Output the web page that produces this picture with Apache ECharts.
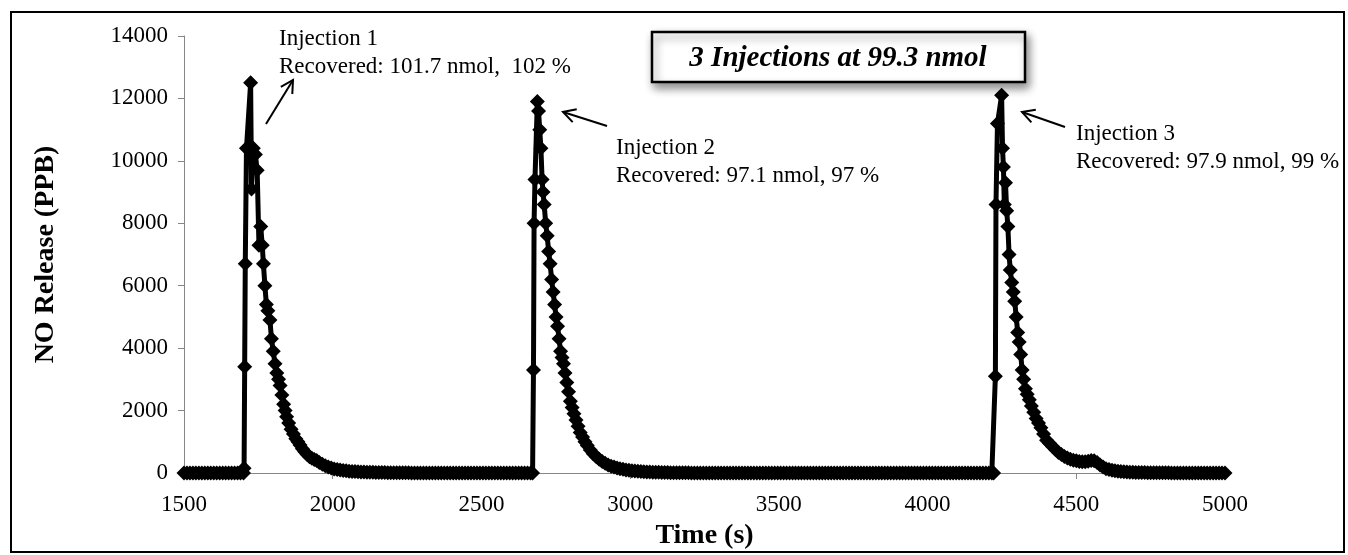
<!DOCTYPE html>
<html>
<head>
<meta charset="utf-8">
<script src="https://cdn.jsdelivr.net/npm/echarts@6/dist/echarts.min.js"></script>
<style>
  html, body { margin: 0; padding: 0; background: #fff; }
  #chart { width: 1348px; height: 555px; }
</style>
</head>
<body>
<div id="chart"></div>
<script>
// --- data (time in s, NO release in PPB) ---
var baseline1Time = [1500, 1510, 1520, 1530, 1540, 1550, 1560, 1570, 1580, 1590, 1600,
  1610, 1620, 1630, 1640, 1650, 1660, 1670, 1680, 1690, 1700];
var baseline1Ppb = [0, 0, 0, 0, 0, 0, 0, 0, 0, 0, 0, 0, 0, 0, 0, 0, 0, 0, 0, 0, 0];

var inj1Time = [1702, 1704, 1706, 1710,
  1724, 1727, 1733, 1740, 1746, 1752, 1758, 1763, 1767, 1772,
  1777, 1782, 1789, 1794, 1800, 1806, 1812, 1818, 1823, 1829,
  1835, 1840, 1845, 1852, 1860, 1868, 1876, 1883, 1890, 1898,
  1906, 1914, 1922, 1930, 1938, 1946, 1955, 1965, 1975, 1985,
  1995, 2005, 2015, 2025, 2035, 2045, 2055, 2065, 2075, 2085,
  2095, 2105, 2115, 2125, 2135, 2145, 2155, 2165, 2175, 2185,
  2195, 2205, 2215, 2225, 2235, 2245, 2255, 2265, 2275, 2285, 2295];
var inj1Ppb = [150, 3400, 6700, 10400,
  12500, 9100, 10400, 10200, 9700, 7300, 7900, 7300, 6700, 6000,
  5400, 5200, 4900, 4300, 3900, 3500, 3200, 3000, 2800, 2500,
  2200, 2000, 1800, 1600, 1400, 1250, 1100, 1000, 900, 780,
  680, 590, 520, 470, 430, 400, 340, 280, 230, 190,
  160, 130, 110, 95, 80, 70, 60, 52, 45, 40,
  35, 30, 27, 24, 21, 19, 17, 15, 13, 12,
  11, 10, 9, 8, 7, 6, 5, 4, 3, 2, 1];

var baseline2Time = [2305, 2315, 2325, 2335, 2345, 2355, 2365, 2375, 2385, 2395,
  2405, 2415, 2425, 2435, 2445, 2455, 2465, 2475, 2485, 2495,
  2505, 2515, 2525, 2535, 2545, 2555, 2565, 2575, 2585, 2595,
  2605, 2615, 2625, 2635, 2645, 2655, 2665];
var baseline2Ppb = [0, 0, 0, 0, 0, 0, 0, 0, 0, 0,
  0, 0, 0, 0, 0, 0, 0, 0, 0, 0,
  0, 0, 0, 0, 0, 0, 0, 0, 0, 0,
  0, 0, 0, 0, 0, 0, 0];

var inj2Time = [2672, 2675, 2677, 2680, 2688,
  2692, 2696, 2700, 2704, 2707, 2711, 2716, 2721, 2726, 2731,
  2736, 2741, 2746, 2751, 2756, 2761, 2766, 2771, 2776, 2781,
  2787, 2793, 2799, 2805, 2811, 2818, 2825, 2832, 2840, 2848,
  2856, 2866, 2876, 2886, 2896,
  2906, 2916, 2926, 2936, 2946, 2956, 2966, 2976, 2986, 2996,
  3006, 3016, 3026, 3036, 3046, 3056, 3066, 3076, 3086, 3096,
  3106, 3116, 3126, 3136, 3146, 3156, 3166, 3176, 3186, 3196,
  3206, 3216, 3226, 3236, 3246];
var inj2Ppb = [0, 3300, 8000, 9400, 11900,
  11600, 11000, 10400, 9400, 9000, 8600, 8000, 7600, 7100, 6700,
  6200, 5800, 5400, 5000, 4700, 4300, 3900, 3700, 3500, 3200,
  2900, 2600, 2300, 2100, 1900, 1700, 1500, 1300, 1150, 1000,
  880, 740, 620, 520, 440,
  370, 310, 260, 220, 190, 160, 140, 120, 100, 85,
  75, 65, 56, 48, 42, 36, 31, 27, 24, 21,
  18, 16, 14, 12, 10, 9, 8, 7, 6, 5,
  4, 3, 2, 1, 0];

var baseline3Time = [3256, 3266, 3276, 3286, 3296, 3306, 3316, 3326, 3336, 3346,
  3356, 3366, 3376, 3386, 3396, 3406, 3416, 3426, 3436, 3446,
  3456, 3466, 3476, 3486, 3496, 3506, 3516, 3526, 3536, 3546,
  3556, 3566, 3576, 3586, 3596, 3606, 3616, 3626, 3636, 3646,
  3656, 3666, 3676, 3686, 3696, 3706, 3716, 3726, 3736, 3746,
  3756, 3766, 3776, 3786, 3796, 3806, 3816, 3826, 3836, 3846,
  3856, 3866, 3876, 3886, 3896, 3906, 3916, 3926, 3936, 3946,
  3956, 3966, 3976, 3986, 3996, 4006, 4016, 4026, 4036, 4046,
  4056, 4066, 4076, 4086, 4096, 4106, 4116, 4126, 4136, 4146,
  4156, 4166, 4176, 4186, 4196, 4206, 4216];
var baseline3Ppb = [0, 0, 0, 0, 0, 0, 0, 0, 0, 0,
  0, 0, 0, 0, 0, 0, 0, 0, 0, 0,
  0, 0, 0, 0, 0, 0, 0, 0, 0, 0,
  0, 0, 0, 0, 0, 0, 0, 0, 0, 0,
  0, 0, 0, 0, 0, 0, 0, 0, 0, 0,
  0, 0, 0, 0, 0, 0, 0, 0, 0, 0,
  0, 0, 0, 0, 0, 0, 0, 0, 0, 0,
  0, 0, 0, 0, 0, 0, 0, 0, 0, 0,
  0, 0, 0, 0, 0, 0, 0, 0, 0, 0,
  0, 0, 0, 0, 0, 0, 0];

var inj3Time = [4222, 4228, 4230, 4235, 4249,
  4252, 4255, 4258, 4262, 4266, 4270, 4274, 4278, 4283, 4288,
  4293, 4298, 4303, 4308, 4313, 4318, 4323, 4329, 4335, 4342,
  4349, 4357, 4365, 4373, 4381, 4390,
  4400, 4410, 4420, 4430, 4440, 4450, 4460, 4470, 4480, 4490,
  4500, 4510, 4520, 4530, 4540, 4550, 4560, 4570, 4580, 4590,
  4600, 4610, 4620, 4630, 4640, 4650, 4660, 4670, 4680, 4690,
  4700, 4710, 4720, 4730, 4740, 4750, 4760, 4770, 4780, 4790,
  4800, 4810, 4820, 4830, 4840, 4850, 4860, 4870, 4880, 4890,
  4900, 4910, 4920, 4930, 4940, 4950, 4960, 4970, 4980, 4990, 5000];
var inj3Ppb = [0, 3100, 8600, 11200, 12100,
  10400, 9800, 8600, 9300, 8400, 7900, 7000, 6500, 6100, 5800,
  5500, 5000, 4500, 4200, 3800, 3300, 3000, 2700, 2520, 2350,
  2150, 1950, 1750, 1600, 1450, 1250,
  1050, 950, 850, 750, 660, 590, 530, 480, 440, 410,
  390, 370, 360, 360, 380, 400, 390, 340, 260, 190,
  140, 110, 85, 70, 58, 48, 40, 34, 28, 24,
  20, 17, 15, 13, 11, 10, 9, 8, 7, 6,
  5, 5, 4, 4, 3, 3, 2, 2, 1, 1,
  0, 0, 0, 0, 0, 0, 0, 0, 0, 0, 0];

var xTicks = { min: 1500, max: 5000, step: 500 };
var yTicks = { min: 0, max: 14000, step: 2000 };

var titleText = '3 Injections at 99.3 nmol';
var notes = [
  { text: 'Injection 1\nRecovered: 101.7 nmol,  102 %', x: 279, y: 25, from: [266, 124], to: [293, 80] },
  { text: 'Injection 2\nRecovered: 97.1 nmol, 97 %', x: 616, y: 134, from: [607, 126], to: [563, 112] },
  { text: 'Injection 3\nRecovered: 97.9 nmol, 99 %', x: 1076, y: 120, from: [1065, 127], to: [1022, 112] }
];

function pairs(times, vals) {
  var out = [];
  for (var i = 0; i < times.length; i++) out.push([times[i], vals[i]]);
  return out;
}

var seriesData = [].concat(
  pairs(baseline1Time, baseline1Ppb),
  pairs(inj1Time, inj1Ppb),
  pairs(baseline2Time, baseline2Ppb),
  pairs(inj2Time, inj2Ppb),
  pairs(baseline3Time, baseline3Ppb),
  pairs(inj3Time, inj3Ppb)
);

var serif = '"Liberation Serif", "Times New Roman", serif';

// open arrow: shaft plus two barbs at the tip
function arrow(from, to) {
  var ang = Math.atan2(to[1] - from[1], to[0] - from[0]);
  var len = 14, spread = 0.5;
  var b1 = [to[0] - len * Math.cos(ang - spread), to[1] - len * Math.sin(ang - spread)];
  var b2 = [to[0] - len * Math.cos(ang + spread), to[1] - len * Math.sin(ang + spread)];
  var st = { stroke: '#000', lineWidth: 2, fill: null };
  return [
    { type: 'polyline', shape: { points: [from, to] }, style: st, z: 20 },
    { type: 'polyline', shape: { points: [b1, to, b2] }, style: st, z: 20 }
  ];
}

var graphics = [
  { type: 'rect', shape: { x: 11, y: 12, width: 1333, height: 540 },
    style: { fill: null, stroke: '#000', lineWidth: 2 }, z: 30 },
  { type: 'rect', shape: { x: 652, y: 32, width: 373, height: 50 },
    style: { fill: '#fff', stroke: '#000', lineWidth: 2.5,
      shadowBlur: 9, shadowOffsetX: 3, shadowOffsetY: 5, shadowColor: 'rgba(0,0,0,0.45)' }, z: 20 },
  { type: 'text', x: 838, y: 59, z: 21,
    style: { text: titleText, font: 'italic bold 29px ' + serif, fill: '#000',
      textAlign: 'center', textVerticalAlign: 'middle' } }
];
notes.forEach(function (n) {
  graphics.push({ type: 'text', x: n.x, y: n.y, z: 20,
    style: { text: n.text, font: '23px ' + serif, fill: '#000', lineHeight: 28,
      textAlign: 'left', textVerticalAlign: 'top' } });
  graphics = graphics.concat(arrow(n.from, n.to));
});

function plain(v) { return String(v); }

var chart = echarts.init(document.getElementById('chart'), null, { renderer: 'canvas' });
chart.setOption({
  animation: false,
  backgroundColor: '#ffffff',
  grid: { left: 184, right: 123, top: 36, bottom: 73, containLabel: false },
  xAxis: {
    type: 'value', min: xTicks.min, max: xTicks.max, interval: xTicks.step,
    name: 'Time (s)', nameLocation: 'middle', nameGap: 49,
    nameTextStyle: { fontFamily: serif, fontSize: 28, fontWeight: 'bold', color: '#000' },
    axisLine: { show: true, lineStyle: { color: '#868686', width: 1 } },
    axisTick: { show: true, length: 6, lineStyle: { color: '#868686' } },
    axisLabel: { fontFamily: serif, fontSize: 23, color: '#000', margin: 20, formatter: plain },
    splitLine: { show: false }
  },
  yAxis: {
    type: 'value', min: yTicks.min, max: yTicks.max, interval: yTicks.step,
    name: 'NO Release (PPB)', nameLocation: 'middle', nameGap: 124,
    nameTextStyle: { fontFamily: serif, fontSize: 28, fontWeight: 'bold', color: '#000' },
    axisLine: { show: true, lineStyle: { color: '#868686', width: 1 } },
    axisTick: { show: true, length: 6, lineStyle: { color: '#868686' } },
    axisLabel: { fontFamily: serif, fontSize: 23, color: '#000', margin: 16, formatter: plain },
    splitLine: { show: false }
  },
  series: [{
    type: 'line',
    data: seriesData,
    showAllSymbol: true,
    symbol: 'diamond',
    symbolSize: 15,
    itemStyle: { color: '#000' },
    lineStyle: { color: '#000', width: 5 },
    z: 5
  }],
  graphic: graphics
});
</script>
</body>
</html>
